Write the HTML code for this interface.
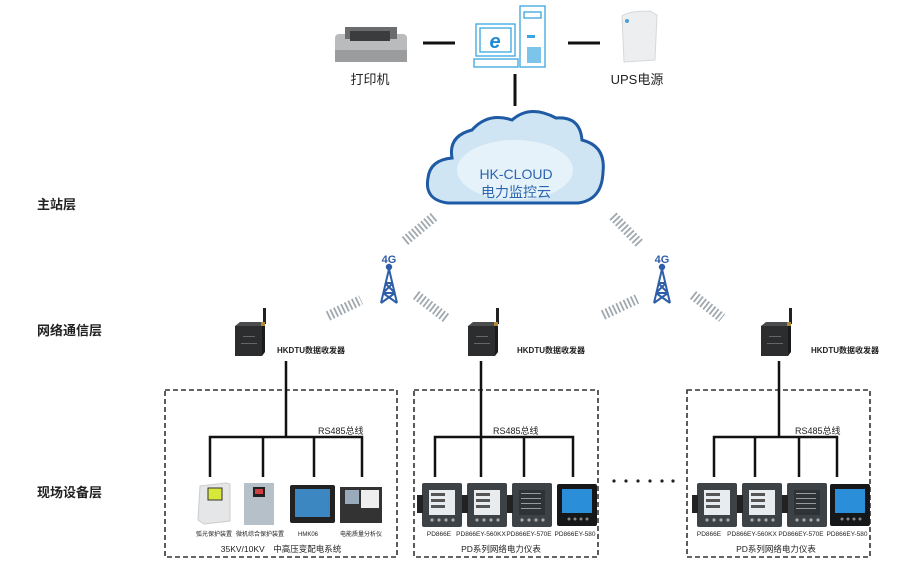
<!DOCTYPE html>
<html><head><meta charset="utf-8"><style>
html,body{margin:0;padding:0;background:#fff}
svg{display:block}
text{font-family:"Liberation Sans","Noto Sans CJK SC",sans-serif}
</style></head><body>
<svg width="909" height="574" viewBox="0 0 909 574" xmlns="http://www.w3.org/2000/svg">
<defs>
<g id="dtu">
<rect x="0" y="4" width="27" height="30" fill="#2b2d2f"/>
<polygon points="0,4 5,0 30,0 27,4" fill="#4a4c4e"/>
<polygon points="27,4 30,0 30,30 27,34" fill="#1a1b1c"/>
<rect x="28" y="-14" width="3" height="16" fill="#222"/>
<rect x="26" y="0" width="4" height="4" fill="#b08a3a"/>
<rect x="8" y="14" width="12" height="1" fill="#666"/>
<rect x="6" y="21" width="16" height="1" fill="#666"/>
</g>
<g id="meter">
<rect x="0" y="0" width="40" height="44" fill="#3c4246" rx="2"/>
<rect x="-5" y="12" width="6" height="18" fill="#222"/>
<rect x="7" y="7" width="26" height="25" fill="#e8ecee"/>
<rect x="9" y="10" width="14" height="3" fill="#555"/>
<rect x="9" y="16" width="14" height="3" fill="#555"/>
<rect x="9" y="22" width="14" height="3" fill="#555"/>
<circle cx="10" cy="37" r="1.6" fill="#aaa"/><circle cx="17" cy="37" r="1.6" fill="#aaa"/><circle cx="24" cy="37" r="1.6" fill="#aaa"/><circle cx="31" cy="37" r="1.6" fill="#aaa"/>
</g>
<g id="meter2">
<rect x="0" y="0" width="40" height="44" fill="#3c4246" rx="2"/>
<rect x="-5" y="12" width="6" height="18" fill="#222"/>
<rect x="7" y="7" width="26" height="25" fill="#2d3336"/>
<rect x="9" y="10" width="20" height="1" fill="#999"/><rect x="9" y="15" width="20" height="1" fill="#999"/><rect x="9" y="20" width="20" height="1" fill="#999"/><rect x="9" y="25" width="20" height="1" fill="#999"/>
<circle cx="10" cy="37" r="1.6" fill="#aaa"/><circle cx="17" cy="37" r="1.6" fill="#aaa"/><circle cx="24" cy="37" r="1.6" fill="#aaa"/><circle cx="31" cy="37" r="1.6" fill="#aaa"/>
</g>
<g id="meter3">
<rect x="0" y="0" width="40" height="42" fill="#151718" rx="2"/>
<rect x="5" y="5" width="30" height="24" fill="#2a8fd8"/>
<circle cx="12" cy="35" r="1.5" fill="#888"/><circle cx="18" cy="35" r="1.5" fill="#888"/><circle cx="24" cy="35" r="1.5" fill="#888"/><circle cx="30" cy="35" r="1.5" fill="#888"/>
</g>
<g id="tower" fill="none" stroke="#2f5ea8" stroke-width="2">
<circle cx="8" cy="2" r="2.2" fill="#2f5ea8"/>
<path d="M8 4 L0 38 M8 4 L16 38 M4 18 L12 18 M2 28 L14 28 M4 18 L14 28 M12 18 L2 28 M2 28 L16 38 M14 28 L0 38"/>
</g>
</defs>

<g font-size="13" font-weight="bold" fill="#222">
<text x="37" y="209">主站层</text>
<text x="37" y="335">网络通信层</text>
<text x="37" y="497">现场设备层</text>
</g>

<g stroke="#111" stroke-width="3">
<line x1="423" y1="43" x2="455" y2="43"/>
<line x1="568" y1="43" x2="600" y2="43"/>
<line x1="515" y1="74" x2="515" y2="106"/>
</g>

<rect x="335" y="34" width="72" height="26" rx="4" fill="#b9bbbd"/>
<rect x="345" y="27" width="52" height="12" fill="#6a6c6e"/>
<rect x="350" y="31" width="40" height="10" fill="#3a3c3e"/>
<rect x="335" y="50" width="72" height="12" fill="#9a9c9e"/>
<text x="370" y="84" font-size="13" text-anchor="middle" fill="#222">打印机</text>

<g fill="none" stroke="#3aa6df" stroke-width="1.3">
<rect x="476" y="24" width="39" height="32"/>
<rect x="480" y="28" width="31" height="24"/>
<rect x="474" y="59" width="44" height="8"/>
<rect x="520" y="6" width="25" height="61"/>
<rect x="524" y="12" width="17" height="6"/>
</g>
<rect x="527" y="47" width="14" height="16" fill="#7cc4ea"/>
<rect x="527" y="35" width="8" height="3" fill="#3aa6df"/>
<text x="495" y="48" font-size="20" font-style="italic" font-weight="bold" text-anchor="middle" fill="#1a8ad4">e</text>
<text x="637" y="84" font-size="13" text-anchor="middle" fill="#222">UPS电源</text>
<path d="M622 16 Q628 11 650 11 L657 15 L655 60 L624 62 Z" fill="#eceef0" stroke="#d6d8da"/>
<circle cx="627" cy="21" r="2" fill="#4aa0d8"/>

<path d="M448 203 Q424 200 428 178 Q430 160 452 158 Q448 136 472 130 Q488 112 512 120 Q530 104 556 118 Q580 116 582 140 Q606 146 603 172 Q602 200 578 203 Z" fill="#cfe5f3" stroke="#1f5aa5" stroke-width="3"/>
<ellipse cx="515" cy="170" rx="58" ry="30" fill="#e6f2fa"/>
<text x="516" y="179" font-size="14" text-anchor="middle" fill="#2a66b0">HK-CLOUD</text>
<text x="516" y="197" font-size="14" text-anchor="middle" fill="#2a66b0">电力监控云</text>

<g stroke="#a0a7ad" stroke-width="10" stroke-dasharray="1.8 2.2" fill="none">
<line x1="405" y1="241" x2="435" y2="216"/>
<line x1="328" y1="316" x2="361" y2="300"/>
<line x1="416" y1="295" x2="446" y2="318"/>
<line x1="613" y1="216" x2="640" y2="244"/>
<line x1="603" y1="315" x2="637" y2="299"/>
<line x1="693" y1="295" x2="722" y2="318"/>
</g>
<text x="389" y="263" font-size="11" font-weight="bold" text-anchor="middle" fill="#2f5ea8">4G</text>
<use href="#tower" x="381" y="265"/>
<text x="662" y="263" font-size="11" font-weight="bold" text-anchor="middle" fill="#2f5ea8">4G</text>
<use href="#tower" x="654" y="265"/>

<use href="#dtu" x="235" y="322"/>
<use href="#dtu" x="468" y="322"/>
<use href="#dtu" x="761" y="322"/>
<g font-size="8" fill="#222" font-weight="bold">
<text x="277" y="353">HKDTU数据收发器</text>
<text x="517" y="353">HKDTU数据收发器</text>
<text x="811" y="353">HKDTU数据收发器</text>
</g>

<g fill="none" stroke="#333" stroke-width="1.6" stroke-dasharray="5 3">
<rect x="165" y="390" width="232" height="167"/>
<rect x="414" y="390" width="184" height="167"/>
<rect x="687" y="390" width="183" height="167"/>
</g>

<g stroke="#111" stroke-width="2.5" fill="none">
<path d="M286 361 V437 M210 477 V437 H362 V477 M263 437 V477 M314 437 V477"/>
<path d="M481 361 V437 M435 477 V437 H573 V477 M481 437 V477 M524 437 V477"/>
<path d="M779 361 V437 M714 477 V437 H837 V477 M755 437 V477 M799 437 V477"/>
</g>
<g font-size="9" fill="#222">
<text x="318" y="434">RS485总线</text>
<text x="493" y="434">RS485总线</text>
<text x="795" y="434">RS485总线</text>
</g>

<path d="M200 486 L226 483 L230 484 L230 521 L204 524 L198 520 Z" fill="#e4e6e8" stroke="#ccc"/>
<rect x="208" y="488" width="14" height="12" fill="#d8e83a" stroke="#333"/>
<rect x="244" y="483" width="30" height="42" fill="#b5c0c9"/>
<rect x="253" y="487" width="12" height="10" fill="#222"/><rect x="255" y="489" width="8" height="5" fill="#d04040"/>
<rect x="290" y="485" width="45" height="38" fill="#222" rx="2"/>
<rect x="295" y="489" width="35" height="28" fill="#3c87c2"/>
<rect x="340" y="487" width="42" height="36" fill="#333"/>
<rect x="345" y="490" width="14" height="14" fill="#9ab"/><rect x="361" y="490" width="18" height="18" fill="#eee"/>
<g font-size="6" fill="#222" text-anchor="middle">
<text x="214" y="536">弧光保护装置</text>
<text x="260" y="536">微机综合保护装置</text>
<text x="308" y="536">HMK06</text>
<text x="361" y="536">电能质量分析仪</text>
</g>
<text x="281" y="552" font-size="8.5" text-anchor="middle" fill="#222">35KV/10KV　中高压变配电系统</text>

<use href="#meter" x="422" y="483"/>
<use href="#meter" x="467" y="483"/>
<use href="#meter2" x="512" y="483"/>
<use href="#meter3" x="557" y="484"/>
<g font-size="6.5" fill="#222" text-anchor="middle">
<text x="439" y="536">PD866E</text>
<text x="481" y="536">PD866EY-560KX</text>
<text x="529" y="536">PD866EY-570E</text>
<text x="575" y="536">PD866EY-580</text>
</g>
<text x="501" y="552" font-size="8.5" text-anchor="middle" fill="#222">PD系列网络电力仪表</text>

<g fill="#222"><circle cx="614" cy="481" r="1.6"/><circle cx="626" cy="481" r="1.6"/><circle cx="638" cy="481" r="1.6"/><circle cx="650" cy="481" r="1.6"/><circle cx="662" cy="481" r="1.6"/><circle cx="673" cy="481" r="1.6"/></g>

<use href="#meter" x="697" y="483"/>
<use href="#meter" x="742" y="483"/>
<use href="#meter2" x="787" y="483"/>
<use href="#meter3" x="830" y="484"/>
<g font-size="6.5" fill="#222" text-anchor="middle">
<text x="709" y="536">PD866E</text>
<text x="752" y="536">PD866EY-560KX</text>
<text x="801" y="536">PD866EY-570E</text>
<text x="847" y="536">PD866EY-580</text>
</g>
<text x="776" y="552" font-size="8.5" text-anchor="middle" fill="#222">PD系列网络电力仪表</text>
</svg>
</body></html>
